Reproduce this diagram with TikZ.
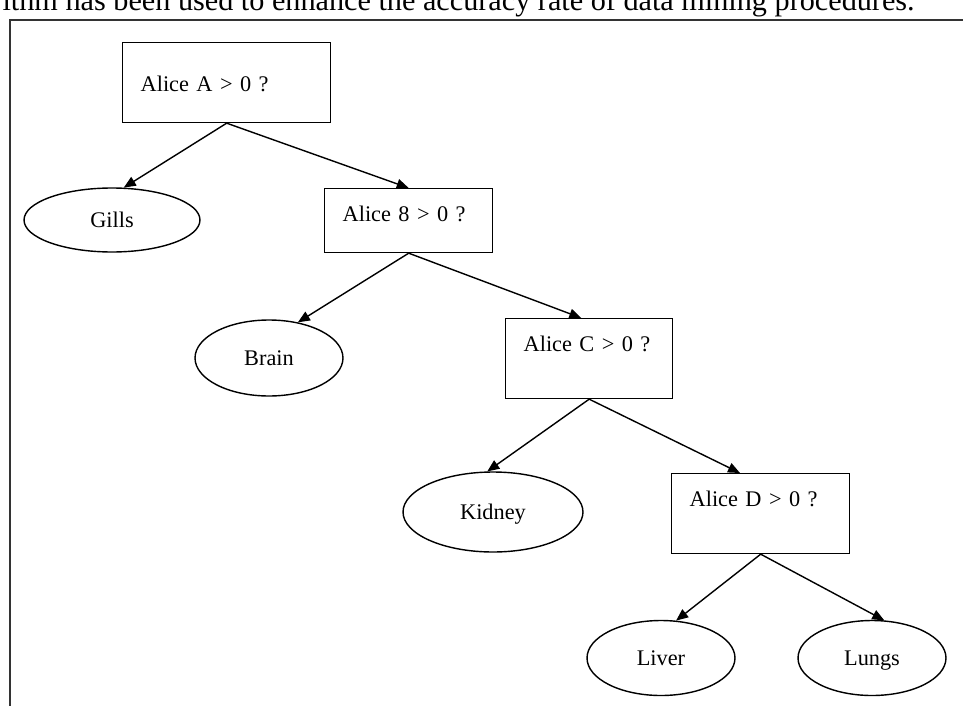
\documentclass[tikz,border=0pt]{standalone}
\usepackage{fontspec}
\setmainfont{Liberation Serif}
\usetikzlibrary{arrows.meta, shapes.geometric}

\begin{document}
\begin{tikzpicture}[
  x=0.02cm, y=-0.02cm,
  test/.style={rectangle, draw, line width=0.8pt, anchor=north west, align=left,
               inner xsep=0.36cm, inner ysep=0pt, font=\fontsize{12.7}{15}\selectfont},
  leaf/.style={ellipse, draw, line width=0.8pt, inner sep=0pt, text height=11pt, text depth=2.6pt,
               font=\fontsize{12.7}{15}\selectfont},
  arrow/.style={-{Triangle[length=0.24cm, width=0.2cm]}, line width=0.8pt},
  frame/.style={line width=1pt, black!80}
]
\useasboundingbox (0,0) rectangle (963,706);

% cut-off line of the page above the figure
\begin{scope}
\clip (0,0) rectangle (963,706);
\node[anchor=base east, inner sep=0pt, font=\fontsize{17.2}{20}\selectfont] (caption) at (915,10.5)
  {algorithm has been used to enhance the accuracy rate of data mining procedures.};
\end{scope}
\draw[frame] (10,706) -- (10,20) -- (963,20);

\node[test, text width=3.44cm, text height=27.5pt, text depth=17.9pt] (alicea) at (122,42) {\mbox{Alice A > 0 ?}};
\node[test, text width=2.64cm, text height=18.5pt, text depth=17.8pt] (aliceb) at (324,188) {\mbox{Alice 8 > 0 ?}};
\node[test, text width=2.62cm, text height=18.5pt, text depth=26.9pt] (alicec) at (505,318) {\mbox{Alice C > 0 ?}};
\node[test, text width=2.84cm, text height=18.5pt, text depth=26.9pt] (aliced) at (671,473) {\mbox{Alice D > 0 ?}};

\node[leaf, minimum width=3.52cm, minimum height=1.28cm] (gills) at (112,220) {Gills};
\node[leaf, minimum width=2.96cm, minimum height=1.52cm] (brain) at (269,358) {Brain};
\node[leaf, minimum width=3.6cm, minimum height=1.6cm] (kidney) at (493,512) {Kidney};
\node[leaf, minimum width=2.96cm, minimum height=1.5cm] (liver) at (661,658) {Liver};
\node[leaf, minimum width=2.96cm, minimum height=1.5cm] (lungs) at (872,658) {Lungs};

\draw[arrow] (alicea.south) -- (gills.70);
\draw[arrow] (alicea.south) -- (aliceb.north);
\draw[arrow] (aliceb.south) -- (brain.51);
\draw[arrow] (aliceb.south) -- (alicec.101);
\draw[arrow] (alicec.south) -- (kidney.98);
\draw[arrow] (alicec.south) -- (aliced.117);
\draw[arrow] (aliced.south) -- (liver.68);
\draw[arrow] (aliced.south) -- (lungs.72);
\end{tikzpicture}
\end{document}
